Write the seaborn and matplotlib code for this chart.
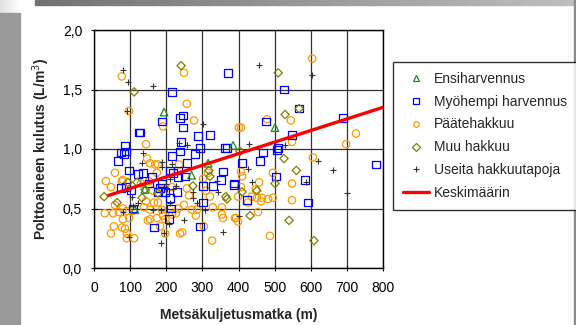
import numpy as np
import pandas as pd
import matplotlib
matplotlib.use("Agg")
import matplotlib.pyplot as plt
from matplotlib.lines import Line2D
from matplotlib.patches import Rectangle
import seaborn as sns

# ---- data ----
ensi_x = [194, 385, 501, 316, 141, 113, 270]
ensi_y = [1.31, 1.03, 1.18, 0.88, 0.66, 0.49, 0.78]

myo_x = [371, 216, 188, 238, 246, 246, 127, 288, 321, 241, 86, 362, 293,
         526, 568, 476, 548, 690, 510, 468, 506, 410, 459, 504, 584, 388, 423, 592, 781,
         75, 83, 89, 66, 97, 125, 122, 136, 160, 152, 102, 89, 75, 183, 238, 216, 210,
         233, 257, 233, 252, 219, 188, 177, 197, 210, 213, 208, 166, 230, 280, 352, 329,
         302, 302, 293, 368, 357, 388, 108]
myo_y = [1.64, 1.48, 1.23, 1.26, 1.28, 1.18, 1.14, 1.11, 1.12, 1.06, 1.03, 1.01, 1.01,
         1.50, 1.34, 1.23, 1.12, 1.26, 1.01, 0.97, 0.99, 0.88, 0.90, 0.77, 0.74, 0.70, 0.57, 0.55, 0.87,
         0.97, 0.96, 0.98, 0.90, 0.82, 1.14, 0.79, 0.80, 0.77, 0.71, 0.65, 0.68, 0.67, 0.67, 0.98, 0.94, 0.82,
         0.82, 0.88, 0.76, 0.77, 0.80, 0.71, 0.64, 0.64, 0.59, 0.50, 0.41, 0.34, 0.64, 0.96, 0.74, 0.69,
         0.69, 0.55, 0.35, 1.01, 0.81, 0.71, 0.50]

paate_x = [77, 249, 257, 277, 191, 97, 144, 401,
           604, 479, 545, 407, 548, 725, 698,
           606, 407, 410, 457, 495, 548, 407, 448, 399, 437, 451, 465, 482, 495, 548, 426, 462,
           454, 390, 399, 487,
           58, 33, 80, 47, 147, 155, 169, 177, 174, 152, 130, 77, 163, 188, 216, 166, 144, 138,
           91, 69, 53, 30, 58, 80, 108, 97, 80, 55, 77, 86, 91, 47, 111, 91, 155, 155, 149, 174,
           191, 183, 233, 216, 197, 188, 177, 227, 197, 238, 244, 257, 263, 271, 285, 282, 235,
           249, 304, 327, 329, 354, 357, 310, 321, 393, 354, 302, 316]
paate_y = [1.61, 1.64, 1.38, 1.24, 1.19, 1.32, 1.04, 1.18,
           1.76, 1.25, 1.24, 1.18, 1.06, 1.13, 1.04,
           0.93, 0.81, 0.77, 0.72, 0.80, 0.71, 0.68, 0.66, 0.60, 0.60, 0.59, 0.59, 0.58, 0.59, 0.57, 0.55, 0.56,
           0.47, 0.42, 0.39, 0.27,
           0.80, 0.73, 0.74, 0.68, 0.92, 0.88, 0.87, 0.87, 0.80, 0.73, 0.71, 0.73, 0.65, 0.66, 0.68, 0.55, 0.56, 0.51,
           0.48, 0.47, 0.46, 0.46, 0.53, 0.50, 0.48, 0.42, 0.41, 0.35, 0.34, 0.33, 0.29, 0.29, 0.25, 0.25, 0.49, 0.41, 0.40, 0.42,
           0.44, 0.35, 0.50, 0.45, 0.41, 0.49, 0.55, 0.46, 0.29, 0.29, 0.30, 0.67, 0.61, 0.49, 0.49, 0.44, 0.87,
           0.53, 0.35, 0.23, 0.51, 0.45, 0.42, 0.65, 0.60, 0.42, 0.51, 0.75, 0.80]

muu_x = [241, 111, 510, 529, 568, 404, 526, 560, 501, 410, 451, 432, 540, 609,
         28, 64, 94, 119, 133, 318, 321, 274, 365, 368, 177, 141]
muu_y = [1.70, 1.48, 1.64, 1.29, 1.34, 0.98, 0.92, 0.82, 0.71, 0.64, 0.65, 0.44, 0.40, 0.23,
         0.60, 0.55, 0.72, 0.72, 0.59, 0.82, 0.77, 0.69, 0.60, 0.58, 0.63, 0.66]

useita_x = [80, 94, 163, 91, 302, 257, 457, 604, 429, 529, 620, 662, 426, 437, 587, 700, 401,
            235, 257, 136, 133, 188, 188, 216, 199, 202, 227, 210, 219, 210, 185, 163, 108, 80,
            105, 122, 97, 185, 194, 208, 249, 285, 307, 274, 340, 343, 357, 274]
useita_y = [1.66, 1.56, 1.53, 1.32, 1.21, 1.03, 1.71, 1.62, 1.04, 1.03, 0.90, 0.82, 0.83, 0.72, 0.72, 0.63, 0.44,
            1.05, 1.03, 0.97, 0.88, 0.89, 0.85, 0.87, 0.71, 0.66, 0.69, 0.75, 0.66, 0.55, 0.49, 0.49, 0.52, 0.47,
            0.60, 0.55, 0.26, 0.21, 0.29, 0.37, 0.40, 0.55, 0.49, 0.59, 0.73, 0.64, 0.30, 0.64]

mean_x = [40, 800]
mean_y = [0.61, 1.35]

labels = ["Ensiharvennus", "Myöhempi harvennus", "Päätehakkuu", "Muu hakkuu", "Useita hakkuutapoja", "Keskimäärin"]
x_ticks = [0, 100, 200, 300, 400, 500, 600, 700, 800]
y_ticks = [0.0, 0.5, 1.0, 1.5, 2.0]
y_ticklabels = ["0,0", "0,5", "1,0", "1,5", "2,0"]

# ---- figure ----
sns.set_theme(style="white")
plt.rcParams['font.family'] = ['Liberation Sans', 'DejaVu Sans']

W, H = 576, 325
fig = plt.figure(figsize=(W / 100, H / 100), dpi=100)
fig.patch.set_facecolor("white")

# slide-like background frame
def fx(px): return px / W
def fy(py): return 1 - py / H
n = 40
for i in range(n):
    c = 0.88 + 0.12 * i / n
    fig.patches.append(Rectangle((fx(20 * i / n), 0), fx(20 / n) + 0.001, 1,
                                 transform=fig.transFigure, color=(c, c, c), zorder=-5))
for i in range(n):
    c = 0.45 + 0.30 * i / n
    fig.patches.append(Rectangle((fx(35 + 541 * i / n), fy(5)), fx(541 / n) + 0.001, fy(0) - fy(5),
                                 transform=fig.transFigure, color=(c, c, c), zorder=-5))
fig.patches.append(Rectangle((0, 0), fx(20), 1 - fy(312), transform=fig.transFigure,
                             color="#9a9a9a", zorder=-4))
fig.patches.append(Rectangle((fx(574), 0), fx(2), 1, transform=fig.transFigure,
                             color="#8a8a8a", zorder=-4))

ax = fig.add_axes([fx(94), fy(268), fx(383) - fx(94), fy(30) - fy(268)])
ax.set_facecolor("white")

groups = [
    (ensi_x, ensi_y, "^", "#1a8c1a", 30),
    (myo_x, myo_y, "s", "#0000ff", 30),
    (paate_x, paate_y, "o", "#ff9900", 28),
    (muu_x, muu_y, "D", "#808000", 18),
    (useita_x, useita_y, "+", "#333333", 22),
]
for gi in [2, 1, 3, 0, 4]:
    gx, gy, mk, col, s = groups[gi]
    df = pd.DataFrame({"x": gx, "y": gy})
    if mk == "+":
        sns.scatterplot(data=df, x="x", y="y", marker=mk, color=col, s=s,
                        linewidth=0.8, ax=ax, zorder=3, legend=False)
    else:
        sns.scatterplot(data=df, x="x", y="y", marker=mk, s=s,
                        facecolor="none", edgecolor=col, linewidth=0.9,
                        ax=ax, zorder=3, legend=False)

sns.lineplot(x=mean_x, y=mean_y, color="#ff0000", linewidth=2.4, ax=ax, zorder=4)

ax.set_xlim(0, 800)
ax.set_ylim(0, 2.0)
ax.set_xticks(x_ticks)
ax.set_xticklabels([str(t) for t in x_ticks], fontsize=10)
ax.set_yticks(y_ticks)
ax.set_yticklabels(y_ticklabels, fontsize=10)
ax.grid(True, color="#333333", linewidth=0.9)
ax.set_axisbelow(True)
for sp in ax.spines.values():
    sp.set_color("black")
    sp.set_linewidth(1.0)
ax.tick_params(axis="both", which="both", direction="inout", length=5, width=0.8,
               colors="black", bottom=True, left=True, pad=6)
ax.tick_params(axis="x", pad=7)
ax.set_xlabel("Metsäkuljetusmatka (m)", fontsize=10, fontweight="bold", labelpad=9)
ax.set_ylabel("Polttoaineen kulutus (L/m$^3$)", fontsize=10, fontweight="bold", labelpad=8)

handles = []
for gx, gy, mk, col, s in groups:
    if mk == "+":
        handles.append(Line2D([], [], linestyle="none", marker=mk, color=col, markersize=4, markeredgewidth=0.8))
    else:
        handles.append(Line2D([], [], linestyle="none", marker=mk, markerfacecolor="none",
                              markeredgecolor=col, markersize=4, markeredgewidth=0.9))
handles.append(Line2D([], [], color="#ff0000", linewidth=2.4))

leg = fig.legend(handles, labels, loc="upper left", bbox_to_anchor=(fx(393), fy(62)),
                 frameon=True, fancybox=False, edgecolor="black", fontsize=10,
                 labelspacing=0.64, handlelength=1.9, handletextpad=0.35,
                 borderpad=0.7, borderaxespad=0)
leg.get_frame().set_linewidth(1.0)

fig.savefig("out.png", dpi=100)
